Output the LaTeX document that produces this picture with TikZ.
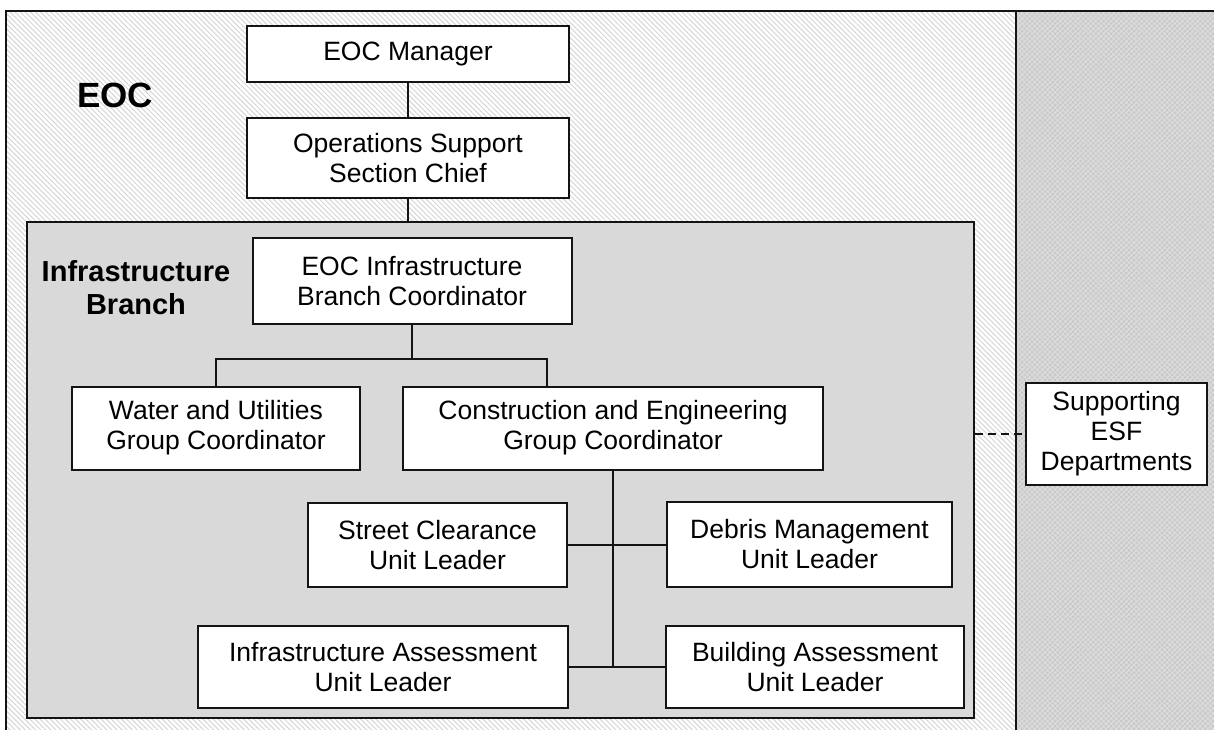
\documentclass[tikz,border=0pt]{standalone}
\usepackage{fontspec}
\setmainfont{Liberation Sans}
\usetikzlibrary{patterns.meta}

\definecolor{branchgray}{RGB}{217,217,217}
\definecolor{hatchgray}{RGB}{214,214,214}
\definecolor{panelgray}{RGB}{212,212,212}
\definecolor{paneldark}{RGB}{196,196,196}
\definecolor{panellight}{RGB}{226,226,226}
\definecolor{edge}{RGB}{20,20,20}

\tikzset{
  orgbox/.style={draw=edge, line width=2pt, fill=white, inner sep=0pt,
    align=center, font=\fontsize{26.5}{30}\selectfont},
  branchbox/.style={draw=edge, line width=2pt, fill=branchgray, inner sep=0pt},
  link/.style={draw=edge, line width=2pt},
  dashlink/.style={draw=edge, line width=2pt, dash pattern=on 8pt off 5pt},
  frame/.style={draw=edge, line width=2.2pt},
  title/.style={font=\bfseries\fontsize{35}{40}\selectfont, inner sep=0pt},
  subtitle/.style={font=\bfseries\fontsize{29}{33}\selectfont, align=center, inner sep=0pt}
}

\begin{document}
\begin{tikzpicture}[x=1pt, y=-1pt]
  \useasboundingbox (0,0) rectangle (1214,730);

  % EOC area: hatched background
  \fill[white] (6,11) rectangle (1016,730);
  \fill[pattern={Lines[angle=-45, distance=3.6pt, line width=1pt]}, pattern color=hatchgray]
    (6,11) rectangle (1016,730);

  % side panel for supporting departments
  \fill[panelgray] (1016,11) rectangle (1214,730);
  \fill[pattern={Lines[angle=-45, distance=3.6pt, line width=1pt]}, pattern color=paneldark]
    (1016,11) rectangle (1214,730);
  \fill[pattern={Lines[angle=45, distance=3.6pt, line width=0.7pt]}, pattern color=panellight]
    (1016,11) rectangle (1214,730);

  % outer frame (open at the bottom)
  \draw[frame] (6,730) -- (6,11) -- (1214,11);
  \draw[frame] (1016,11) -- (1016,730);

  \node[title] (eoclabel) at (115,95) {EOC};

  % Infrastructure Branch container
  \node[branchbox, minimum width=947pt, minimum height=496pt] (branch) at (500.5,470) {};
  \node[subtitle] (branchlabel) at (136,288) {Infrastructure\\Branch};

  % boxes
  \node[orgbox, minimum width=322pt, minimum height=56pt] (mgr) at (408,54) {EOC Manager};
  \node[orgbox, minimum width=322pt, minimum height=80pt] (ops) at (408,158)
    {Operations Support\\Section Chief};
  \node[orgbox, minimum width=319pt, minimum height=86pt] (ibc) at (412,281)
    {EOC Infrastructure\\Branch Coordinator};
  \node[orgbox, minimum width=288pt, minimum height=83pt] (water) at (216,428)
    {Water and Utilities\\Group Coordinator};
  \node[orgbox, minimum width=420pt, minimum height=83pt] (cons) at (613,428)
    {Construction and Engineering\\Group Coordinator};
  \node[orgbox, minimum width=259pt, minimum height=84pt] (street) at (437.5,545)
    {Street Clearance\\Unit Leader};
  \node[orgbox, minimum width=285pt, minimum height=85pt] (debris) at (809.5,544.5)
    {Debris Management\\Unit Leader};
  \node[orgbox, minimum width=370pt, minimum height=82pt] (iau) at (383,667)
    {Infrastructure Assessment\\Unit Leader};
  \node[orgbox, minimum width=298pt, minimum height=82pt] (bau) at (815,667)
    {Building Assessment\\Unit Leader};
  \node[orgbox, minimum width=181pt, minimum height=102pt] (esf) at (1116.5,434)
    {Supporting\\ESF\\Departments};

  % connectors
  \draw[link] (mgr.south) -- (ops.south |- mgr.south) -- (ops.north);
  \draw[link] (ops.south) -- (ops.south |- branch.north);
  \draw[link] (ibc.south) -- ++(0,34) coordinate (bar);
  \path (cons.north) ++(-66,0) coordinate (cdrop);
  \draw[link] (water.north) |- (bar) -| (cdrop);

  \draw[link] (cons.south) -- (cons.south |- bau.west);
  \draw[link] (street.east) -- (street.east -| cons.south);
  \draw[link] (debris.west) -- (debris.west -| cons.south);
  \draw[link] (iau.east) -- (iau.east -| cons.south);
  \draw[link] (bau.west) -- (bau.west -| cons.south);

  \draw[dashlink] (esf.west -| branch.east) -- (esf.west);
\end{tikzpicture}
\end{document}
